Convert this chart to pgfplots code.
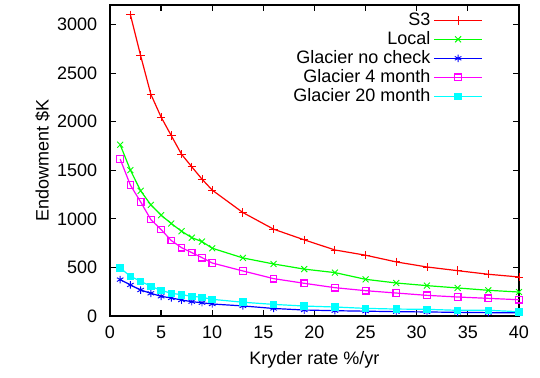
\documentclass[border=0pt]{standalone}
\usepackage{pgfplots}
\pgfplotsset{compat=1.18}
\usepackage{fontspec}
\setmainfont{Liberation Sans}
\definecolor{gred}{RGB}{255,0,0}
\definecolor{ggreen}{RGB}{0,255,0}
\definecolor{gblue}{RGB}{0,0,255}
\definecolor{gmag}{RGB}{255,0,255}
\definecolor{gcyan}{RGB}{0,255,255}
\begin{document}
\begin{tikzpicture}
\useasboundingbox (-73.3pt,-41.3pt) rectangle (286.7pt,210.7pt);
\begin{axis}[
  at={(0,0)}, anchor=south west,
  scale only axis, width=272.7pt, height=207.3pt,
  xmin=0, xmax=40, ymin=0, ymax=3200,
  xtick={0,5,...,40}, ytick={0,500,...,3000},
  font=\fontsize{12}{14}\selectfont,
  /pgf/number format/assume math mode=true,
  /pgf/number format/1000 sep={},
  tick align=inside, major tick length=4pt,
  axis line style={line width=1.2pt},
  every tick/.style={black, line width=0.8pt},
  xticklabel style={yshift=-3pt},
  yticklabel style={xshift=-5pt},
  xlabel={Kryder rate \%/yr},
  ylabel={Endowment \$K},
  xlabel style={yshift=-2pt},
  ylabel style={yshift=-2pt},
  legend style={draw=none, fill=none, at={(rel axis cs:0.912,0.985)}, anchor=north east,
    font=\fontsize{12}{14}\selectfont, row sep=-1.5pt, inner sep=0pt},
  legend cell align=right,
  legend plot pos=right,
  legend image code/.code={\draw[mark repeat=2,mark phase=2,#1] plot coordinates {(0pt,0pt) (16pt,0pt) (32pt,0pt)};},
  every axis plot/.append style={line width=0.8pt, mark options={line width=0.6pt}},
]
\addplot[gred, mark=+, mark size=2.8pt] coordinates {
(2,3100) (3,2680) (4,2282) (5,2048) (6,1856) (7,1665) (8,1536) (9,1409) (10,1296)
(13,1065) (16,894) (19,784) (22,680) (25,626) (28,557) (31,505) (34,467) (37,430) (40,402)};
\addlegendentry{S3}
\addplot[ggreen, mark=x, mark size=2.8pt] coordinates {
(1,1763) (2,1502) (3,1289) (4,1144) (5,1038) (6,952) (7,873) (8,807) (9,766) (10,698)
(13,598) (16,536) (19,483) (22,447) (25,378) (28,340) (31,313) (34,289) (37,265) (40,247)};
\addlegendentry{Local}
\addplot[gblue, mark=asterisk, mark size=2.5pt] coordinates {
(1,375) (2,320) (3,268) (4,234) (5,203) (6,186) (7,165) (8,148) (9,137) (10,124)
(13,104) (16,78) (19,62) (22,55) (25,50) (28,45) (31,42) (34,38) (37,35) (40,33)};
\addlegendentry{Glacier no check}
\addplot[gmag, mark=square, mark size=2.2pt, mark options={line width=0.8pt}] coordinates {
(1,1615) (2,1347) (3,1175) (4,993) (5,890) (6,777) (7,704) (8,653) (9,601) (10,546)
(13,464) (16,385) (19,337) (22,292) (25,261) (28,237) (31,213) (34,196) (37,182) (40,168)};
\addlegendentry{Glacier 4 month}
\addplot[gcyan, mark=square*, mark size=2.2pt] coordinates {
(1,495) (2,409) (3,358) (4,306) (5,265) (6,234) (7,220) (8,203) (9,193) (10,172)
(13,142) (16,120) (19,103) (22,93) (25,79) (28,72) (31,69) (34,59) (37,59) (40,45)};
\addlegendentry{Glacier 20 month}
\end{axis}
\end{tikzpicture}
\end{document}
